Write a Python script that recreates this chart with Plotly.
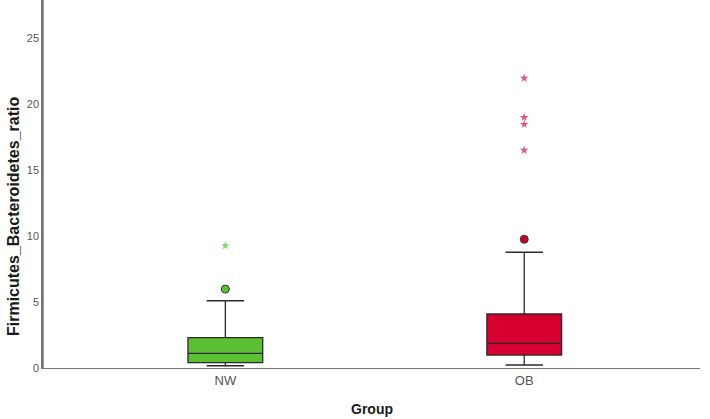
import plotly.graph_objects as go

groups = ["NW", "OB"]
positions = [0, 1]
q1 = [0.40, 0.98]
median = [1.11, 1.87]
q3 = [2.30, 4.09]
lower_fence = [0.17, 0.23]
upper_fence = [5.10, 8.76]
outliers_circle = [[5.98], [9.75]]
outliers_star = [[9.27], [21.95, 18.99, 18.46, 16.50]]

box_colors = ["#5cbf35", "#d6002f"]
circle_colors = ["#5cbf35", "#c8002e"]
star_colors = ["#8ad86c", "#e2557f"]

box_width = 0.25
cap_half = 0.0625

fig = go.Figure()
for i, g in enumerate(groups):
    fig.add_trace(go.Box(
        x=[positions[i]], q1=[q1[i]], median=[median[i]], q3=[q3[i]],
        lowerfence=[lower_fence[i]], upperfence=[upper_fence[i]],
        width=box_width, fillcolor=box_colors[i],
        line=dict(color="#2a2a2a", width=1.3),
        boxpoints=False, showlegend=False, name=g, whiskerwidth=0,
    ))
    for v in (lower_fence[i], upper_fence[i]):
        fig.add_trace(go.Scatter(
            x=[positions[i] - cap_half, positions[i] + cap_half], y=[v, v],
            mode="lines", line=dict(color="#2a2a2a", width=1.5),
            showlegend=False, hoverinfo="skip"))
    fig.add_trace(go.Scatter(
        x=[positions[i]] * len(outliers_circle[i]), y=outliers_circle[i],
        mode="markers", marker=dict(symbol="circle", size=8, color=circle_colors[i],
                                    line=dict(color="#3a3a3a", width=1)),
        showlegend=False))
    fig.add_trace(go.Scatter(
        x=[positions[i]] * len(outliers_star[i]), y=outliers_star[i],
        mode="markers", marker=dict(symbol="star", size=6.5, color=star_colors[i],
                                    line=dict(width=0)),
        showlegend=False))

fig.update_layout(
    width=710, height=419,
    margin=dict(l=43, r=10, t=0, b=51, autoexpand=False),
    paper_bgcolor="white", plot_bgcolor="white",
    font=dict(family="Liberation Sans, Arial, sans-serif", color="#555555", size=11),
    xaxis=dict(range=[-0.61, 1.588], tickvals=positions, ticktext=groups,
               showgrid=False, zeroline=False, showline=True, linecolor="#777777",
               linewidth=1.2, ticks="", automargin=False,
               tickfont=dict(size=13, color="#555555")),
    yaxis=dict(range=[0, 27.88], tickvals=[0, 5, 10, 15, 20, 25],
               showgrid=False, zeroline=False, showline=True, linecolor="#777777",
               linewidth=1.5, ticks="", automargin=False,
               tickfont=dict(size=11, color="#555555")),
    shapes=[dict(type="line", xref="paper", yref="paper", x0=0, x1=0, y0=0, y1=1,
                 line=dict(color="#777777", width=1.5), layer="above")],
    annotations=[
        dict(text="<b>Group</b>", x=0.5, y=-41 / 368, xref="paper", yref="paper",
             showarrow=False, xanchor="center", yanchor="middle",
             font=dict(size=14, color="#1a1a1a")),
        dict(text="<b>Firmicutes_Bacteroidetes_ratio</b>",
             x=(13 - 43) / (710 - 53), y=(368 - 217) / 368,
             xref="paper", yref="paper", xanchor="center", yanchor="middle",
             showarrow=False, textangle=-90, font=dict(size=16, color="#1a1a1a")),
    ],
)

fig.write_html("out.html",
               config={"displayModeBar": False},
               post_script="document.body.style.margin='0';document.body.style.overflow='hidden';")
